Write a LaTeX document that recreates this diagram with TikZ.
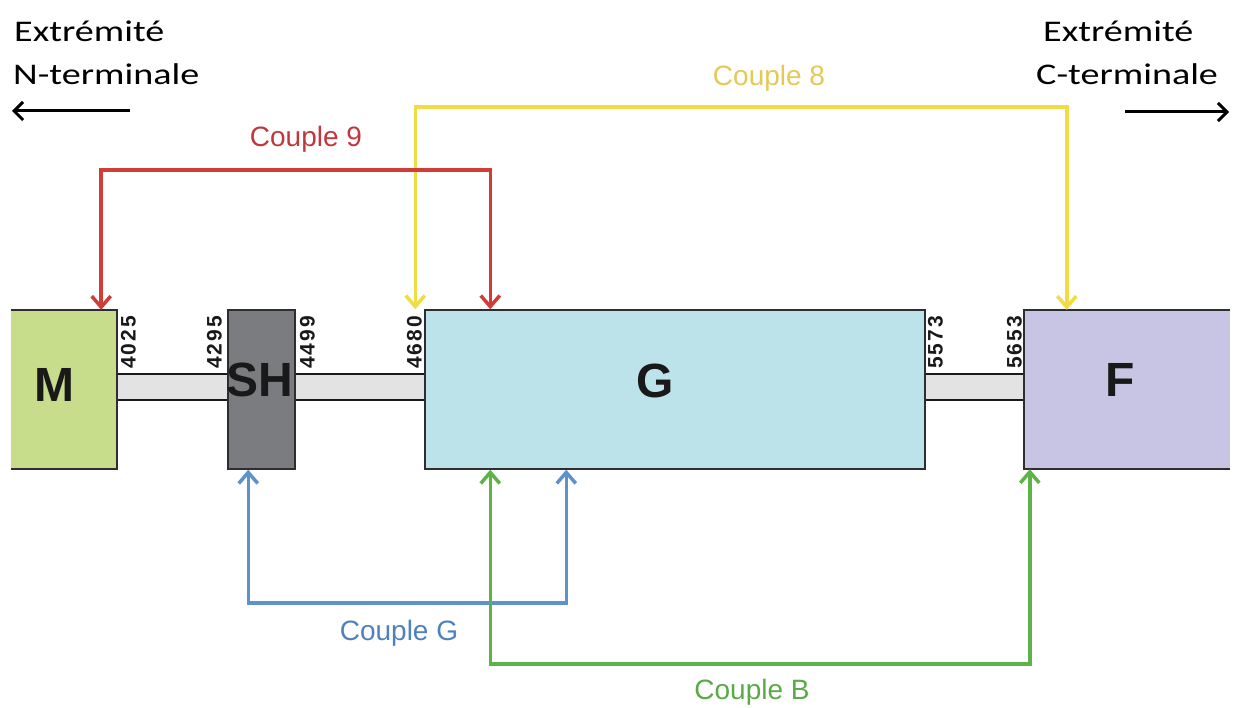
\documentclass[tikz,border=0pt]{standalone}
\usepackage{fontspec}
\setmainfont{Liberation Sans}
\newfontfamily\calib[FakeStretch=1.27]{Carlito}
\newfontfamily\numf[LetterSpace=10]{Liberation Sans}
\usetikzlibrary{arrows.meta}
\definecolor{mfill}{RGB}{199,221,140}
\definecolor{shfill}{RGB}{123,124,128}
\definecolor{gfill}{RGB}{189,227,234}
\definecolor{ffill}{RGB}{199,197,227}
\definecolor{barfill}{RGB}{227,227,227}
\definecolor{edge}{RGB}{45,45,50}
\definecolor{cred}{RGB}{208,60,55}
\definecolor{cyel}{RGB}{242,220,70}
\definecolor{cblue}{RGB}{94,146,204}
\definecolor{cgreen}{RGB}{92,180,70}
\definecolor{tred}{RGB}{192,55,60}
\definecolor{tyel}{RGB}{230,200,85}
\definecolor{tblue}{RGB}{78,130,190}
\definecolor{tgreen}{RGB}{90,170,70}
\tikzset{
  dombox/.style={inner sep=0pt, minimum height=159pt},
  dlabel/.style={inner sep=0pt, font=\fontsize{48}{48}\selectfont\bfseries, text=black!90},
  num/.style={inner sep=0pt, rotate=90, anchor=south west, font=\numf\fontsize{21}{21}\selectfont\bfseries, text=black!90},
  boxline/.style={draw=edge, line width=1.5pt},
  couple/.style={line width=3.5pt, arrows={Straight Barb[length=11pt,width=19pt]-Straight Barb[length=11pt,width=19pt]}},
  clabel/.style={inner sep=0pt, anchor=base, font=\fontsize{28}{28}\selectfont},
  endtext/.style={inner sep=0pt, anchor=base west, font=\calib\fontsize{30}{30}\selectfont},
  endarrow/.style={line width=3pt, -{Straight Barb[length=9pt,width=18pt]}}
}
\begin{document}
\begin{tikzpicture}[x=1pt,y=-1pt]
\useasboundingbox (0,0) rectangle (1236,708);
% linker bar
\fill[barfill] (117,374) rectangle (1024,400);
\draw[black!90, line width=2.5pt] (117,374) -- (1024,374) (117,400) -- (1024,400);
% domains
\node[dombox, fill=mfill, minimum width=106pt] (M) at (64,389.5) {};
\draw[boxline] (M.north west) -- (M.north east) -- (M.south east) -- (M.south west);
\node[dombox, fill=shfill, boxline, minimum width=67pt] (SH) at (261.5,389.5) {};
\node[dombox, fill=gfill, boxline, minimum width=500pt] (G) at (675,389.5) {};
\node[dombox, fill=ffill, minimum width=206pt] (F) at (1127,389.5) {};
\draw[boxline] (F.north east) -- (F.north west) -- (F.south west) -- (F.south east);
% domain labels
\node[dlabel] (Mlab) at (54,385) {M};
\node[dlabel] (SHlab) at (260,380) {SH};
\node[dlabel] (Glab) at (655,381) {G};
\node[dlabel] (Flab) at (1120,380) {F};
% positions
\node[num] (n4025) at (136,369) {4025};
\node[num] (n4295) at (222,369) {4295};
\node[num] (n4499) at (315,369) {4499};
\node[num] (n4680) at (422,369) {4680};
\node[num] (n5573) at (943,369) {5573};
\node[num] (n5653) at (1022,369) {5653};
% connector end points
\coordinate (m9) at ([xshift=-16pt]M.north east);
\coordinate (g9) at ([xshift=66pt]G.north west);
\coordinate (g8) at ([xshift=-9pt]G.north west);
\coordinate (f8) at ([xshift=43pt]F.north west);
\coordinate (sG) at ([xshift=21pt]SH.south west);
\coordinate (gG) at ([xshift=142pt]G.south west);
\coordinate (gB) at ([xshift=66pt]G.south west);
\coordinate (fB) at ([xshift=6pt]F.south west);
% couples
\draw[couple, cyel] (g8) -- ++(0,-202) -| (f8);
\draw[couple, cred] (m9) -- ++(0,-140) -| (g9);
\draw[couple, cblue] (sG) -- ++(0,133) -| (gG);
\draw[couple, cgreen] (gB) -- ++(0,194) -| (fB);
\node[clabel, text=tred] (l9) at (306,147) {Couple 9};
\node[clabel, text=tyel] (l8) at (769,86) {Couple 8};
\node[clabel, text=tblue] (lG) at (399,640) {Couple G};
\node[clabel, text=tgreen] (lB) at (752,699) {Couple B};
% termini
\node[endtext] (nt1) at (14,42) {Extrémité};
\node[endtext] (nt2) at (13,85) {N-terminale};
\node[endtext] (ct1) at (1043,42) {Extrémité};
\node[endtext] (ct2) at (1036,85) {C-terminale};
\coordinate (na) at (130,111);
\coordinate (nb) at (12,111);
\coordinate (ca) at (1125,112);
\coordinate (cb) at (1229,112);
\draw[endarrow] (na) -- (nb);
\draw[endarrow] (ca) -- (cb);
\end{tikzpicture}
\end{document}
